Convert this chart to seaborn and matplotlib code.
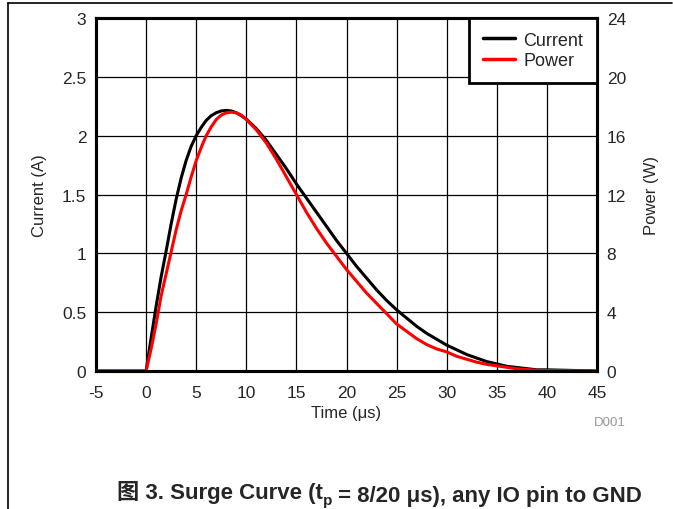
import pandas as pd
import matplotlib.pyplot as plt
import seaborn as sns
from matplotlib.lines import Line2D

# Dati
time_current = [-5, 0, 0.5, 1, 1.5, 2, 2.5, 3, 3.5, 4, 4.5, 5, 5.5, 6, 6.5, 7, 7.5, 8,
                8.5, 9, 9.5, 10, 11, 12, 13, 14, 15, 16, 17, 18, 19, 20, 21, 22, 23,
                24, 25, 26, 27, 28, 29, 30, 31, 32, 33, 34, 35, 36, 37, 38, 39, 40, 45]
current_a = [0, 0, 0.28, 0.55, 0.8, 1.02, 1.25, 1.46, 1.64, 1.79, 1.91, 2.0, 2.07, 2.13,
             2.17, 2.195, 2.21, 2.215, 2.21, 2.195, 2.17, 2.14, 2.06, 1.96, 1.84, 1.72,
             1.59, 1.47, 1.35, 1.23, 1.11, 1.0, 0.89, 0.79, 0.69, 0.6, 0.52, 0.45, 0.38,
             0.32, 0.27, 0.22, 0.18, 0.14, 0.11, 0.08, 0.06, 0.04, 0.03, 0.02, 0.01,
             0.01, 0.0]

time_power = [-5, 0, 0.5, 1, 1.5, 2, 2.5, 3, 3.5, 4, 4.5, 5, 5.5, 6, 6.5, 7, 7.5, 8,
              8.5, 9, 9.5, 10, 11, 12, 13, 14, 15, 16, 17, 18, 19, 20, 21, 22, 23,
              24, 25, 26, 27, 28, 29, 30, 31, 32, 33, 34, 35, 36, 37, 38, 39, 40, 45]
power_w = [0, 0, 1.5, 3.2, 5.1, 6.6, 8.1, 9.6, 10.9, 12.0, 13.2, 14.3, 15.2, 16.0, 16.6,
           17.1, 17.4, 17.55, 17.6, 17.55, 17.4, 17.1, 16.4, 15.5, 14.4, 13.2, 12.0,
           10.8, 9.7, 8.7, 7.8, 6.9, 6.1, 5.3, 4.6, 3.9, 3.2, 2.7, 2.2, 1.8, 1.5, 1.3,
           1.0, 0.8, 0.6, 0.45, 0.35, 0.25, 0.15, 0.1, 0.05, 0.03, 0]

x_ticks = [-5, 0, 5, 10, 15, 20, 25, 30, 35, 40, 45]
left_ticks = [0, 0.5, 1, 1.5, 2, 2.5, 3]
left_labels = ['0', '0.5', '1', '1.5', '2', '2.5', '3']
right_ticks = [0, 4, 8, 12, 16, 20, 24]

df_current = pd.DataFrame({'Time': time_current, 'Current': current_a})
df_power = pd.DataFrame({'Time': time_power, 'Power': power_w})

sns.set_style('white')
plt.rcParams['font.family'] = ['Liberation Sans', 'Noto Sans CJK SC', 'DejaVu Sans']

fig = plt.figure(figsize=(6.73, 5.10), dpi=100)
ax = fig.add_axes([96 / 673, 138 / 510, 501 / 673, 353 / 510])
ax2 = ax.twinx()

sns.lineplot(data=df_current, x='Time', y='Current', ax=ax, color='black',
             linewidth=2.2, label='Current', legend=False)
sns.lineplot(data=df_power, x='Time', y='Power', ax=ax2, color='red',
             linewidth=2.2, label='Power', legend=False)

ax.set_xlim(-5, 45)
ax.set_ylim(0, 3)
ax2.set_ylim(0, 24)
ax.set_xticks(x_ticks)
ax.set_xticklabels([str(t) for t in x_ticks])
ax.set_yticks(left_ticks)
ax.set_yticklabels(left_labels)
ax2.set_yticks(right_ticks)

ax.grid(True, color='black', linewidth=0.9)
ax2.grid(False)
ax.tick_params(axis='y', length=0, pad=7, labelsize=12.5)
ax.tick_params(axis='x', length=0, pad=10, labelsize=12.5)
ax2.tick_params(length=0, pad=7, labelsize=12.5)

for a in (ax, ax2):
    for s in a.spines.values():
        s.set_visible(True)
        s.set_color('black')
        s.set_linewidth(2.2)

ax.set_xlabel('Time (μs)', fontsize=12, labelpad=4)
ax.set_ylabel('Current (A)', fontsize=12, labelpad=11)
ax2.set_ylabel('Power (W)', fontsize=12, labelpad=13)

# Legenda
handles = [Line2D([], [], color='black', linewidth=2.5),
           Line2D([], [], color='red', linewidth=2.5)]
leg = ax2.legend(handles, ['Current', 'Power'], loc='upper right', borderaxespad=0,
                 fancybox=False, framealpha=1, fontsize=13, handlelength=1.8,
                 labelspacing=0.2, borderpad=0.75, handletextpad=0.45)
leg.get_frame().set_edgecolor('black')
leg.get_frame().set_linewidth(2)

fig.text(610 / 673, 1 - 423 / 510, 'D001', color='#999999', fontsize=9.5,
         ha='center', va='center')

# Didascalia
t1 = fig.text(117 / 673, 1 - 499 / 510, '图 3. Surge Curve (t', fontsize=16,
              fontweight='bold', ha='left', va='baseline')
t2 = ax.annotate('p', xy=(1, 0), xycoords=t1, xytext=(0, -1), textcoords='offset points',
                 fontsize=11, fontweight='bold', ha='left', va='baseline',
                 annotation_clip=False)
ax.annotate(' = 8/20 μs), any IO pin to GND', xy=(1, 0), xycoords=t2, xytext=(0, 1),
            textcoords='offset points', fontsize=16, fontweight='bold',
            ha='left', va='bottom', annotation_clip=False)

# Bordo pagina
fig.add_artist(Line2D([8 / 673, 672 / 673], [1 - 4 / 510, 1 - 4 / 510],
                      color='black', linewidth=1.2, transform=fig.transFigure))
fig.add_artist(Line2D([8 / 673, 8 / 673], [1 - 4 / 510, 0],
                      color='black', linewidth=1.2, transform=fig.transFigure))

plt.savefig('out.png', dpi=100)
